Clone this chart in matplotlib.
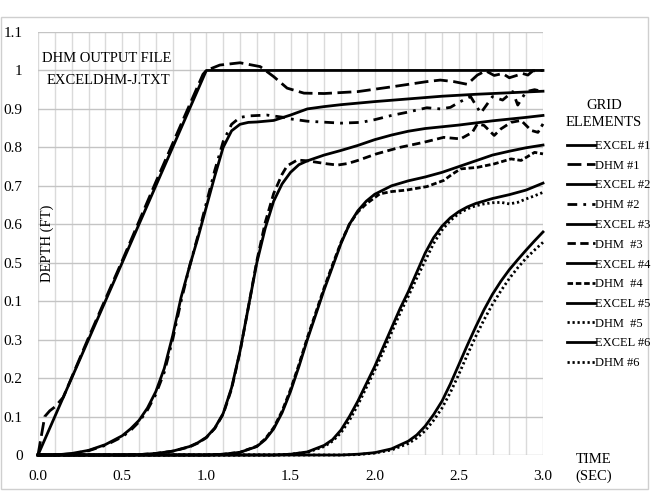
import matplotlib
matplotlib.use("Agg")
import matplotlib.pyplot as plt
from matplotlib.patches import Rectangle
import numpy as np

plt.rcParams["font.family"] = ["Liberation Serif", "DejaVu Serif"]

# --- Data (time in sec, depth in ft) ---
t_excel1 = [0, 1.0, 3.0]
d_excel1 = [0, 1.0, 1.0]

t_dhm1 = [0, 0.02, 0.04, 0.07, 0.1, 0.15, 0.3, 0.5, 0.7, 0.9, 0.98, 1.0, 1.08, 1.2, 1.32,
          1.4, 1.48, 1.58, 1.7, 1.9, 2.11, 2.31, 2.39, 2.47, 2.55, 2.61, 2.66, 2.71, 2.76,
          2.8, 2.88, 2.91, 2.94, 3.0]
d_dhm1 = [0, 0.05, 0.1, 0.115, 0.125, 0.15, 0.305, 0.505, 0.71, 0.91, 0.99, 1.0, 1.014, 1.02,
          1.01, 0.984, 0.954, 0.941, 0.94, 0.945, 0.958, 0.971, 0.975, 0.971, 0.964, 0.988,
          0.999, 0.987, 0.992, 0.981, 0.992, 0.988, 0.999, 1.0]

t_excel2 = [0, 0.1, 0.2, 0.3, 0.4, 0.5, 0.55, 0.6, 0.65, 0.7, 0.75, 0.8, 0.85, 0.9, 0.95,
            1.0, 1.05, 1.1, 1.15, 1.2, 1.25, 1.3, 1.4, 1.5, 1.6, 1.7, 1.8, 1.9, 2.0, 2.2,
            2.4, 2.6, 2.8, 3.0]
d_excel2 = [0, 0.0, 0.004, 0.012, 0.027, 0.05, 0.068, 0.09, 0.122, 0.165, 0.225, 0.31, 0.41,
            0.49, 0.565, 0.645, 0.725, 0.8, 0.843, 0.86, 0.865, 0.866, 0.87, 0.884, 0.9,
            0.906, 0.911, 0.915, 0.919, 0.926, 0.933, 0.938, 0.942, 0.946]

t_dhm2 = [0, 0.1, 0.2, 0.3, 0.4, 0.5, 0.55, 0.6, 0.65, 0.7, 0.75, 0.8, 0.85, 0.9, 0.95,
          1.0, 1.05, 1.1, 1.15, 1.2, 1.26, 1.36, 1.46, 1.5, 1.6, 1.8, 1.92, 2.0, 2.1, 2.19,
          2.31, 2.39, 2.45, 2.5, 2.57, 2.63, 2.7, 2.76, 2.82, 2.85, 2.9, 2.95, 3.0]
d_dhm2 = [0, 0.0, 0.003, 0.011, 0.025, 0.047, 0.064, 0.086, 0.117, 0.158, 0.215, 0.3, 0.4,
          0.49, 0.57, 0.655, 0.74, 0.815, 0.86, 0.878, 0.882, 0.884, 0.878, 0.874, 0.868,
          0.863, 0.865, 0.872, 0.883, 0.891, 0.903, 0.9, 0.904, 0.917, 0.932, 0.889, 0.932,
          0.923, 0.945, 0.91, 0.945, 0.95, 0.945]

t_excel3 = [0, 0.5, 0.6, 0.7, 0.8, 0.9, 0.95, 1.0, 1.05, 1.1, 1.15, 1.2, 1.25, 1.3, 1.35,
            1.4, 1.45, 1.5, 1.55, 1.6, 1.7, 1.8, 1.9, 2.0, 2.1, 2.2, 2.3, 2.5, 2.7, 2.9, 3.0]
d_excel3 = [0, 0.0, 0.001, 0.004, 0.01, 0.022, 0.032, 0.046, 0.07, 0.108, 0.175, 0.27, 0.385,
            0.5, 0.59, 0.66, 0.705, 0.735, 0.755, 0.765, 0.78, 0.792, 0.805, 0.82, 0.832,
            0.842, 0.849, 0.858, 0.869, 0.878, 0.883]

t_dhm3 = [0, 0.5, 0.6, 0.7, 0.8, 0.9, 0.95, 1.0, 1.05, 1.1, 1.15, 1.2, 1.25, 1.3, 1.35, 1.4,
          1.45, 1.48, 1.54, 1.6, 1.66, 1.72, 1.78, 1.84, 1.9, 2.01, 2.15, 2.29, 2.41, 2.51,
          2.58, 2.61, 2.65, 2.71, 2.75, 2.81, 2.87, 2.93, 2.97, 3.0]
d_dhm3 = [0, 0.0, 0.001, 0.004, 0.01, 0.021, 0.031, 0.045, 0.069, 0.106, 0.172, 0.268, 0.385,
          0.505, 0.605, 0.68, 0.73, 0.752, 0.767, 0.765, 0.761, 0.757, 0.754, 0.758, 0.766,
          0.783, 0.8, 0.813, 0.826, 0.822, 0.839, 0.861, 0.857, 0.831, 0.848, 0.865, 0.87,
          0.844, 0.839, 0.861]

t_excel4 = [0, 1.0, 1.1, 1.2, 1.3, 1.35, 1.4, 1.45, 1.5, 1.55, 1.6, 1.65, 1.7, 1.75, 1.8,
            1.85, 1.9, 1.95, 2.0, 2.1, 2.2, 2.3, 2.4, 2.5, 2.6, 2.7, 2.8, 2.9, 3.0]
d_excel4 = [0, 0.0, 0.002, 0.007, 0.022, 0.04, 0.068, 0.11, 0.165, 0.23, 0.3, 0.365, 0.43,
            0.49, 0.55, 0.6, 0.635, 0.66, 0.678, 0.7, 0.713, 0.723, 0.735, 0.75, 0.765, 0.78,
            0.79, 0.799, 0.806]

t_dhm4 = [0, 1.0, 1.1, 1.2, 1.3, 1.35, 1.4, 1.45, 1.5, 1.55, 1.6, 1.65, 1.7, 1.75, 1.8,
          1.85, 1.9, 1.95, 2.03, 2.1, 2.19, 2.31, 2.41, 2.46, 2.51, 2.61, 2.71, 2.81, 2.87,
          2.95, 3.0]
d_dhm4 = [0, 0.0, 0.002, 0.007, 0.023, 0.042, 0.071, 0.114, 0.17, 0.235, 0.305, 0.37, 0.435,
          0.495, 0.553, 0.6, 0.632, 0.653, 0.679, 0.685, 0.689, 0.698, 0.714, 0.73, 0.744,
          0.748, 0.757, 0.77, 0.766, 0.787, 0.783]

t_excel5 = [0, 1.4, 1.5, 1.6, 1.7, 1.75, 1.8, 1.85, 1.9, 1.95, 2.0, 2.05, 2.1, 2.15, 2.2,
            2.25, 2.3, 2.35, 2.4, 2.45, 2.5, 2.55, 2.6, 2.7, 2.8, 2.9, 3.0]
d_excel5 = [0, 0.0, 0.002, 0.008, 0.025, 0.04, 0.065, 0.1, 0.14, 0.185, 0.23, 0.28, 0.33,
            0.38, 0.425, 0.475, 0.525, 0.565, 0.595, 0.617, 0.633, 0.645, 0.654, 0.667,
            0.677, 0.689, 0.707]

t_dhm5 = [0, 1.4, 1.5, 1.6, 1.7, 1.75, 1.8, 1.85, 1.9, 1.95, 2.0, 2.05, 2.1, 2.15, 2.2,
          2.25, 2.3, 2.35, 2.4, 2.45, 2.5, 2.55, 2.6, 2.65, 2.7, 2.75, 2.8, 2.85, 2.9, 2.95,
          3.0]
d_dhm5 = [0, 0.0, 0.002, 0.007, 0.022, 0.036, 0.058, 0.09, 0.13, 0.175, 0.22, 0.268, 0.318,
          0.368, 0.413, 0.46, 0.505, 0.55, 0.585, 0.61, 0.628, 0.64, 0.648, 0.653, 0.656,
          0.657, 0.653, 0.657, 0.666, 0.674, 0.683]

t_excel6 = [0, 1.8, 1.9, 2.0, 2.1, 2.2, 2.25, 2.3, 2.35, 2.4, 2.45, 2.5, 2.55, 2.6, 2.65,
            2.7, 2.75, 2.8, 2.85, 2.9, 2.95, 3.0]
d_excel6 = [0, 0.0, 0.002, 0.006, 0.016, 0.036, 0.052, 0.075, 0.105, 0.14, 0.185, 0.235,
            0.285, 0.333, 0.378, 0.418, 0.452, 0.482, 0.508, 0.533, 0.557, 0.58]

t_dhm6 = [0, 1.8, 1.9, 2.0, 2.1, 2.2, 2.25, 2.3, 2.35, 2.4, 2.45, 2.5, 2.55, 2.6, 2.65,
          2.7, 2.75, 2.8, 2.85, 2.9, 2.95, 3.0]
d_dhm6 = [0, 0.0, 0.001, 0.005, 0.013, 0.03, 0.044, 0.063, 0.09, 0.122, 0.163, 0.21, 0.26,
          0.308, 0.352, 0.392, 0.427, 0.459, 0.487, 0.512, 0.533, 0.553]

x_ticks = [0.0, 0.5, 1.0, 1.5, 2.0, 2.5, 3.0]
x_labels = ["0.0", "0.5", "1.0", "1.5", "2.0", "2.5", "3.0"]
y_ticks = [0, 0.1, 0.2, 0.3, 0.4, 0.5, 0.6, 0.7, 0.8, 0.9, 1.0, 1.1]
y_labels = ["0", "0.1", "0.2", "0.3", "0.1", "0.5", "0.6", "0.7", "0.8", "0.9", "1", "1.1"]

series = [
    ("EXCEL #1", t_excel1, d_excel1, "-"),
    ("DHM #1", t_dhm1, d_dhm1, (0, (5, 2))),
    ("EXCEL #2", t_excel2, d_excel2, "-"),
    ("DHM #2", t_dhm2, d_dhm2, (0, (3.5, 2.2, 1, 2.2))),
    ("EXCEL #3", t_excel3, d_excel3, "-"),
    ("DHM  #3", t_dhm3, d_dhm3, (0, (3, 1.6))),
    ("EXCEL #4", t_excel4, d_excel4, "-"),
    ("DHM  #4", t_dhm4, d_dhm4, (0, (2, 1))),
    ("EXCEL #5", t_excel5, d_excel5, "-"),
    ("DHM  #5", t_dhm5, d_dhm5, (0, (0.8, 1.0))),
    ("EXCEL #6", t_excel6, d_excel6, "-"),
    ("DHM #6", t_dhm6, d_dhm6, (0, (0.8, 1.0))),
]

# --- Figure ---
fig = plt.figure(figsize=(6.55, 4.94), dpi=100)
ax = fig.add_axes([38 / 655, 39 / 494, 505 / 655, 423 / 494])

fig.patches.append(Rectangle((1 / 655, 5 / 494), 647 / 655, 472 / 494,
                             transform=fig.transFigure, fill=False,
                             edgecolor="#cfcfcf", lw=1))

handles = []
for label, t, d, ls in series:
    line, = ax.plot(t, d, color="black", lw=2, linestyle=ls, label=label,
                    clip_on=False, zorder=3 if ls == "-" else 4)
    handles.append(line)

ax.set_xlim(0, 3)
ax.set_ylim(0, 1.1)
ax.set_xticks(x_ticks)
ax.set_xticklabels(x_labels)
ax.set_xticks(np.arange(0, 3.01, 0.1), minor=True)
ax.set_yticks(y_ticks)
ax.set_yticklabels(y_labels)
ax.tick_params(axis="both", which="both", length=0, pad=11, labelsize=11)
ax.grid(axis="x", which="both", color="#dadada", lw=1)
ax.grid(axis="y", which="major", color="#c4c4c4", lw=1)
ax.set_axisbelow(True)
for s in ax.spines.values():
    s.set_visible(False)

ax.text(0.41, 1.032, "DHM OUTPUT FILE", ha="center", va="center", fontsize=10.5)
ax.text(0.416, 0.975, "EXCELDHM-J.TXT", ha="center", va="center", fontsize=10.5)
ax.text(0.053, 0.551, "DEPTH (FT)", ha="center", va="center", rotation=90, fontsize=10.5)

fig.text(604 / 655, 1 - 105 / 494, "GRID", ha="center", va="center", fontsize=10.5)
fig.text(604 / 655, 1 - 122 / 494, "ELEMENTS", ha="center", va="center", fontsize=10.5)
fig.text(594 / 655, 1 - 459 / 494, "TIME", ha="center", va="center", fontsize=10.5)
fig.text(594 / 655, 1 - 476 / 494, "(SEC)", ha="center", va="center", fontsize=10.5)

fig.legend(handles=handles, loc="upper left", bbox_to_anchor=(567 / 655, 1 - 140 / 494),
           frameon=False, fontsize=9, handlelength=2.2, handletextpad=0.05,
           labelspacing=0.62, borderpad=0, borderaxespad=0)

fig.savefig("out.png", dpi=100)
